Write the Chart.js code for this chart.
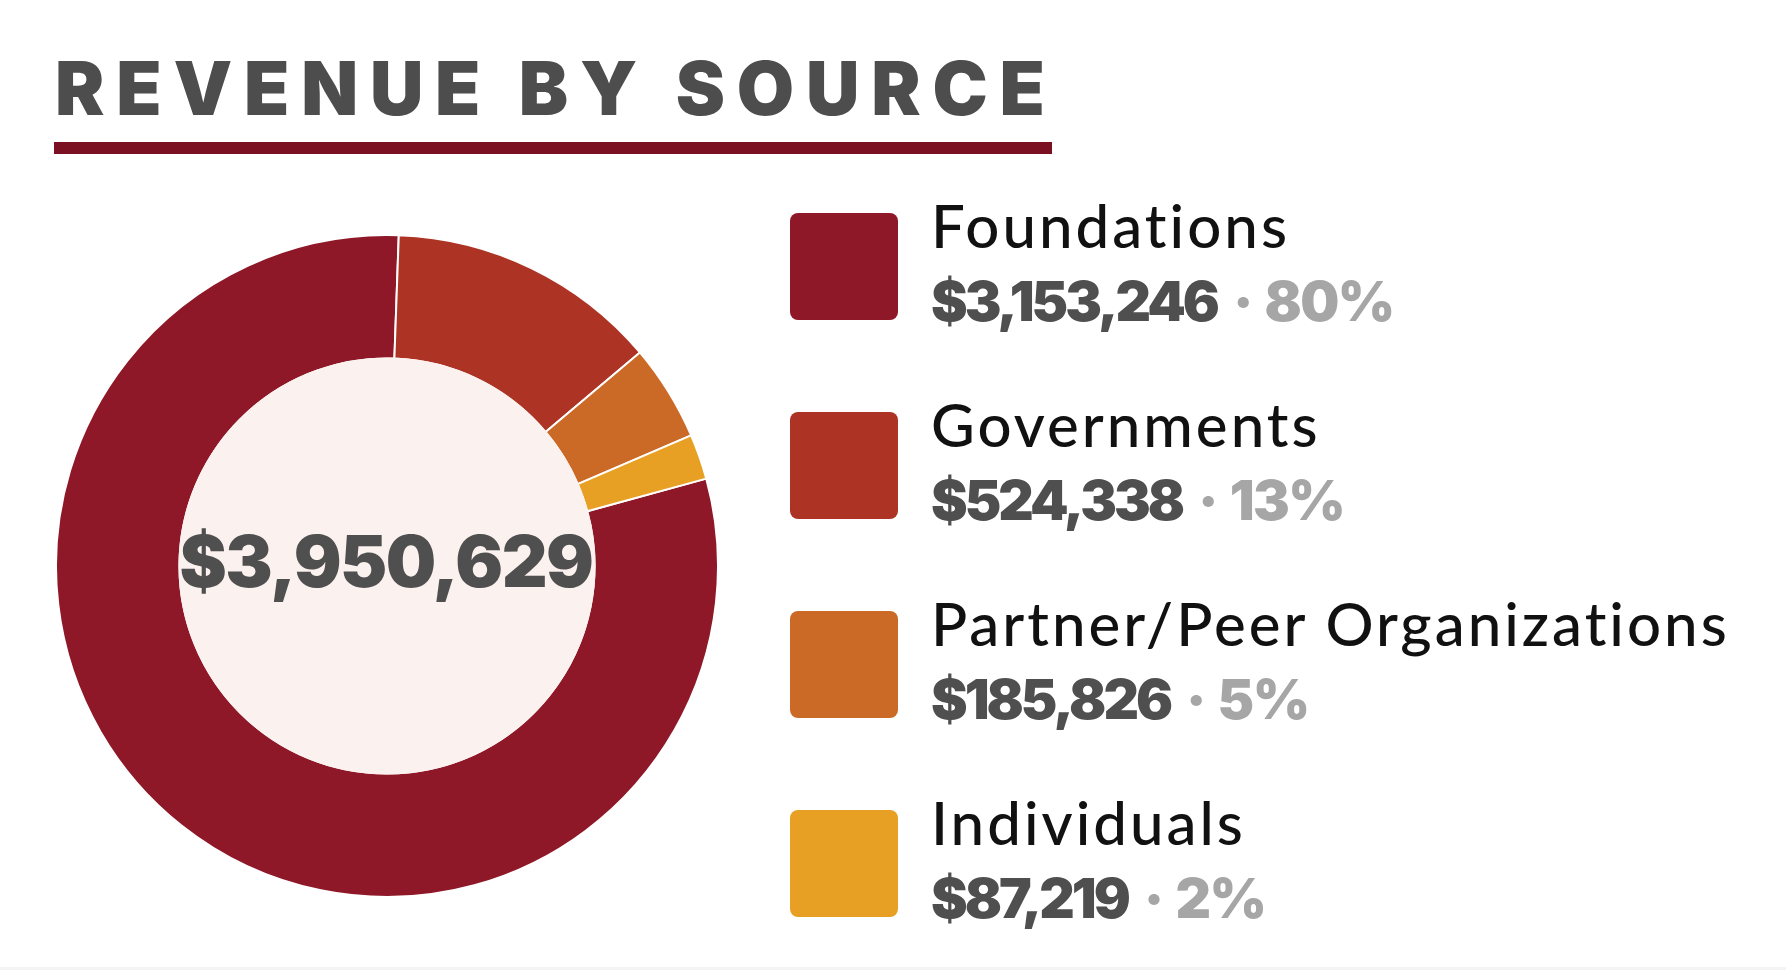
<!DOCTYPE html>
<html lang="en">
<head>
  <meta charset="UTF-8" />
  <title>Revenue by Source</title>
  <script src="https://cdn.jsdelivr.net/npm/chart.js"></script>
  <style>
    html, body { margin: 0; padding: 0; background: #fff; }
    body { width: 1786px; height: 970px; position: relative; overflow: hidden; font-family: Lato, "Open Sans", sans-serif; }
    #title {
      position: absolute; left: 55px; top: 51px; margin: 0;
      font-family: Inter, Lato, sans-serif;
      font-size: 74px; line-height: 1; font-weight: 900; letter-spacing: 11.8px;
      color: #4d4d4d; white-space: nowrap;
    }
    #rule { position: absolute; left: 54px; top: 142px; width: 998px; height: 12px; background: #7b1023; }
    #chartBox { position: absolute; left: 55px; top: 234px; width: 664px; height: 664px; }
    .item { position: absolute; left: 790px; }
    .swatch { position: absolute; left: 0; top: 0; width: 108px; height: 107px; border-radius: 8px; }
    .label { position: absolute; left: 141px; top: -18px; font-size: 60px; line-height: 1; font-weight: 500; letter-spacing: 3px; color: #111; white-space: nowrap; }
    .value { position: absolute; left: 141px; top: 61px; font-family: Inter, Lato, sans-serif; font-size: 55px; line-height: 1; font-weight: 900; letter-spacing: -3px; color: #4f4f4f; white-space: nowrap; }
    .value .pct { color: #a6a6a6; letter-spacing: -1.5px; }
    .value .sep { color: #a6a6a6; margin: 0 14px 0 16px; }
    #foot { position: absolute; left: 0; bottom: 0; width: 100%; height: 3px; background: #f4f4f4; }
  </style>
</head>
<body>
  <h1 id="title">REVENUE BY SOURCE</h1>
  <div id="rule"></div>
  <div id="chartBox"><canvas id="revenueChart"></canvas></div>
  <div id="legend"></div>
  <div id="foot"></div>

  <script>
    // Дані
    const sources = ["Foundations", "Governments", "Partner/Peer Organizations", "Individuals"];
    const amounts = [3153246, 524338, 185826, 87219];
    const percents = ["80%", "13%", "5%", "2%"];
    const colors = ["#8e1728", "#ad3424", "#cb6a27", "#e8a024"];
    const totalLabel = "$3,950,629";

    const fmt = n => "$" + n.toLocaleString("en-US");

    // Легенда
    const legend = document.getElementById("legend");
    sources.forEach((name, i) => {
      const item = document.createElement("div");
      item.className = "item";
      item.style.top = (213 + i * 199) + "px";
      item.innerHTML =
        `<div class="swatch" style="background:${colors[i]}"></div>` +
        `<div class="label">${name}</div>` +
        `<div class="value">${fmt(amounts[i])}<span class="sep">·</span><span class="pct">${percents[i]}</span></div>`;
      legend.appendChild(item);
    });

    // Центр кільця
    const centerFill = {
      id: "centerFill",
      afterDatasetsDraw(chart) {
        const arc = chart.getDatasetMeta(0).data[0];
        if (!arc) return;
        const { x, y, innerRadius } = arc.getProps(["x", "y", "innerRadius"], true);
        const ctx = chart.ctx;
        ctx.save();
        ctx.beginPath();
        ctx.arc(x, y, innerRadius + 1, 0, Math.PI * 2);
        ctx.fillStyle = "#fbf1ee";
        ctx.fill();
        ctx.font = "900 71px Inter, Lato, sans-serif";
        ctx.letterSpacing = "-1.5px";
        ctx.fillStyle = "#4f4f4f";
        ctx.textAlign = "center";
        ctx.textBaseline = "alphabetic";
        ctx.fillText(totalLabel, x - 1, y + 21);
        ctx.restore();
      }
    };

    const ctx = document.getElementById("revenueChart").getContext("2d");
    new Chart(ctx, {
      type: "doughnut",
      data: {
        labels: sources,
        datasets: [{
          data: amounts,
          backgroundColor: colors,
          borderColor: "#ffffff",
          borderWidth: 2
        }]
      },
      options: {
        responsive: true,
        maintainAspectRatio: false,
        animation: false,
        cutout: "62.7%",
        rotation: 74.7,
        layout: { padding: 0 },
        plugins: {
          legend: { display: false },
          tooltip: { enabled: false }
        }
      },
      plugins: [centerFill]
    });
  </script>
</body>
</html>
